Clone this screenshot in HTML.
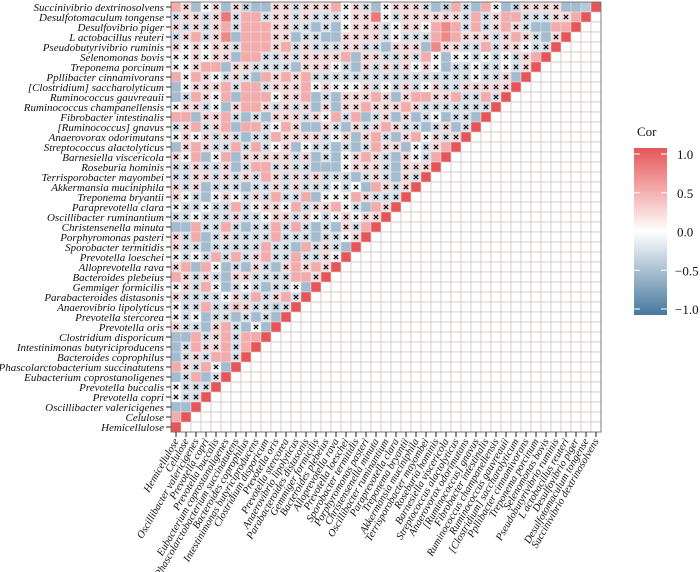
<!DOCTYPE html>
<html><head><meta charset="utf-8"><style>
html,body{margin:0;padding:0;background:#fff;}
svg{display:block;font-family:"Liberation Serif","Times New Roman",serif;}
</style></head><body>
<svg id="chart" width="700" height="572" viewBox="0 0 700 572" font-family="Liberation Serif, serif">
<g id="cells"></g>
<g id="ylabels"></g>
<g id="xlabels"></g>
<g id="legend"></g>
</svg>
<script>
const variables = ["Succinivibrio dextrinosolvens","Desulfotomaculum tongense","Desulfovibrio piger","L actobacillus reuteri","Pseudobutyrivibrio ruminis","Selenomonas bovis","Treponema porcinum","Ppllibacter cinnamivorans","[Clostridium] saccharolyticum","Ruminococcus gauvreauii","Ruminococcus champanellensis","Fibrobacter intestinalis","[Ruminococcus] gnavus","Anaerovorax odorimutans","Streptococcus alactolyticus","Barnesiella viscericola","Roseburia hominis","Terrisporobacter mayombei","Akkermansia muciniphila","Treponema bryantii","Paraprevotella clara","Oscillibacter ruminantium","Christensenella minuta","Porphyromonas pasteri","Sporobacter termitidis","Prevotella loeschei","Alloprevotella rava","Bacteroides plebeius","Gemmiger formicilis","Parabacteroides distasonis","Anaerovibrio lipolyticus","Prevotella stercorea","Prevotella oris","Clostridium disporicum","Intestinimonas butyriciproducens","Bacteroides coprophilus","Phascolarctobacterium succinatutens","Eubacterium coprostanoligenes","Prevotella buccalis","Prevotella copri","Oscillibacter valericigenes","Celulose","Hemicellulose"];
// correlation values: row i = variable i, column j = variable (42-j)
const corrRows = [
[.5,.2,-.5,0,.2,-.5,.2,-.3,-.5,-.5,.2,.2,-.2,.2,.2,.2,.5,0,.2,-.2,-.5,0,.2,.2,.2,-.2,-.5,-.3,.5,-.2,-.5,.5,0,-.5,-.3,.2,.2,.2,.2,-.5,-.5,-.4,1],
[-.2,.2,.2,-.2,.2,.8,-.2,.5,.5,-.2,.2,.2,-.2,.2,-.2,-.2,-.2,0,.2,.2,.8,0,-.2,.2,.2,.2,.2,.2,.2,-.2,.5,-.2,.2,.5,.5,-.2,-.2,-.2,.2,.2,.5,1],
[.2,-.2,.2,-.2,.2,.5,-.2,.5,.5,.5,.2,.2,-.2,-.2,-.5,-.2,-.5,0,.2,.2,.2,-.2,0,.2,.2,0,.5,.7,.5,-.2,.5,-.2,.2,.5,.2,-.2,-.5,-.5,.5,.5,1],
[-.2,.2,.5,-.2,.2,.7,-.5,.5,.5,.5,.2,.2,-.5,-.2,-.2,-.5,-.5,.2,.2,.2,.2,-.2,0,-.2,-.2,-.2,.5,.7,.5,.2,.2,.2,-.2,.2,.5,.2,-.2,-.5,.2,1],
[.2,0,.2,0,.2,.2,-.2,.5,.5,.5,.2,.5,-.2,.2,-.2,-.2,-.2,.2,.2,-.2,-.2,-.5,.2,.2,.2,-.5,.7,.2,.2,-.2,-.2,.5,-.2,.2,.2,0,-.2,-.2,1],
[0,0,.2,0,.2,.2,-.5,.5,.5,-.2,-.2,.2,-.2,.2,.2,.2,.2,.5,-.5,.2,.2,-.2,-.2,.2,-.2,.5,0,-.5,0,0,-.2,0,-.2,0,-.2,.2,.5,1],
[0,0,.2,.5,.5,-.5,.2,.2,-.2,-.2,-.2,-.2,-.5,.2,.2,.2,0,-.2,-.5,.2,-.2,.2,-.2,.2,0,.2,0,-.5,-.2,-.2,0,-.2,-.2,0,-.2,.2,1],
[.5,0,.5,.2,0,-.2,.2,-.2,-.5,.5,.2,.5,.2,.5,-.2,-.2,-.2,-.2,-.2,-.2,-.2,-.2,-.2,-.2,-.2,-.2,-.2,-.2,-.2,-.2,0,-.2,-.2,.2,-.5,1],
[-.5,0,.2,.2,.2,.5,-.2,.5,.5,-.2,.2,.2,.2,.5,0,.2,0,0,0,.2,-.2,0,-.2,.2,-.2,0,.2,-.2,-.2,.2,.2,.2,.2,.2,1],
[-.5,-.2,.5,.2,0,.5,-.5,.5,.5,.5,0,.2,.2,.5,-.5,-.2,-.5,.2,.2,.2,.5,.2,-.5,.2,.5,.5,.2,.2,.5,-.2,-.2,.5,-.2,1],
[0,.2,.2,-.2,0,-.5,.2,.5,.5,.2,-.2,.2,-.2,.2,-.5,.2,-.5,.2,.2,.5,.2,.2,.2,.5,.2,-.2,-.2,-.2,-.2,-.2,-.2,-.2,1],
[.5,.5,-.5,.2,.2,.5,-.2,-.5,-.2,-.5,.2,.2,.2,-.2,.2,0,.5,-.2,.5,-.5,-.2,.2,-.5,.2,-.5,-.2,0,-.5,-.2,-.2,-.5,1],
[-.2,.2,.5,-.2,.2,.5,-.5,.5,.5,-.2,0,.5,.2,-.5,-.5,.2,-.2,-.5,.2,-.2,.2,.5,.2,-.2,-.2,-.5,-.2,.2,-.5,-.2,1],
[0,.2,0,.2,-.2,.2,-.2,-.5,-.2,-.2,.5,.2,.2,.2,.2,-.2,0,.2,-.5,.2,.5,-.2,-.5,.2,.5,0,.2,-.2,.2,1],
[-.5,.2,.5,.2,-.2,-.2,.5,-.2,.5,-.2,0,.2,-.5,0,-.2,-.2,-.5,-.2,-.5,-.2,.5,.2,.2,-.5,0,-.2,.2,.5,1],
[.2,0,.5,-.5,0,.5,-.5,.2,.2,.2,.2,.2,-.2,.2,-.5,-.2,-.5,0,.2,.5,.2,-.2,-.5,.2,0,-.2,.5,1],
[-.2,-.2,.2,-.2,-.2,.2,-.5,-.2,.5,.5,-.2,.2,-.2,-.2,-.5,-.5,-.5,0,.2,.2,.2,-.2,-.5,.2,.2,.2,1],
[-.2,-.2,.2,.2,-.2,.2,-.2,.2,-.2,.5,.2,-.2,.2,-.2,.2,-.2,-.2,-.2,-.5,-.2,.2,-.2,-.5,.2,-.2,1],
[.2,-.2,.2,-.5,-.2,-.2,-.2,-.5,-.2,-.2,.2,-.2,.2,-.2,-.2,-.2,0,-.2,0,-.5,.5,.2,-.2,.2,1],
[.2,0,-.2,-.5,0,.2,0,-.2,.2,-.2,.5,-.2,-.2,.5,-.5,0,0,0,.5,.2,-.2,-.2,-.2,1],
[0,-.2,-.2,0,-.2,-.2,.5,-.2,0,.2,.2,0,.5,-.2,.2,.2,.5,0,-.2,-.5,.5,.2,1],
[-.2,-.2,0,-.2,-.2,-.2,.2,-.2,-.2,0,.2,.2,-.2,.2,0,-.2,0,.2,0,.2,.2,1],
[-.5,-.5,.5,-.2,-.2,.5,-.2,-.5,-.2,-.2,.5,-.2,.5,-.2,-.5,-.2,-.5,.2,-.2,.5,1],
[.2,-.2,.5,-.5,-.2,.2,-.2,-.2,-.2,-.2,.5,-.2,-.2,-.2,-.5,-.2,-.2,0,.2,1],
[.2,-.2,-.2,-.5,-.2,-.2,-.2,-.2,-.2,.5,-.2,-.2,-.5,.5,-.2,.2,-.2,-.5,1],
[0,-.2,0,-.2,.5,-.2,.5,-.2,.2,.5,-.2,-.2,.5,-.2,-.2,.2,0,1],
[.2,.5,-.5,.5,0,-.5,-.2,-.5,.2,-.2,-.5,.2,.5,.2,.5,.2,1],
[.5,.2,-.2,.2,-.2,-.5,.2,.2,-.2,-.2,-.2,-.2,.5,.5,.2,1],
[0,.2,-.2,.5,0,-.5,-.2,0,-.2,-.5,-.2,-.2,0,-.5,1],
[.2,-.2,-.2,-.2,-.2,0,.2,-.2,.5,-.2,.2,.5,-.2,1],
[0,-.2,-.2,.5,-.2,-.2,.3,.2,-.2,-.2,-.3,-.2,1],
[0,-.2,0,-.5,-.2,-.2,-.5,-.2,-.5,-.2,-.5,1],
[.2,-.2,-.2,-.5,.2,.5,-.2,-.5,0,-.5,1],
[-.5,-.5,.5,-.2,.2,.5,-.2,.5,.5,1],
[-.5,-.2,.5,.2,.2,.5,-.2,.5,1],
[-.5,-.2,.2,-.2,.5,.5,-.2,1],
[.5,.2,-.2,.5,0,-.5,1],
[-.5,-.2,.5,-.5,-.2,1],
[0,-.2,-.2,-.2,1],
[0,-.2,-.2,1],
[-.5,-.5,1],
[.5,1],
[1]
];
const legendTicks = [1.0, 0.5, 0.0, -0.5, -1.0];

const NS = "http://www.w3.org/2000/svg";
const N = variables.length;
const X0 = 171, Y0 = 2, CW = 10, CH = 10;
const FONT = '"Liberation Serif", "Times New Roman", serif';
const xPos = j => X0 + j * CW;
const yPos = i => Y0 + i * CH;
const RED = [230, 86, 88], BLUE = [70, 120, 158];
function color(v) {
  const t = Math.min(1, Math.abs(v)), c = v >= 0 ? RED : BLUE;
  const m = k => Math.round(255 + (c[k] - 255) * t);
  return `rgb(${m(0)},${m(1)},${m(2)})`;
}
function mk(tag, attrs, parent) {
  const el = document.createElementNS(NS, tag);
  for (const k in attrs) el.setAttribute(k, attrs[k]);
  parent.appendChild(el);
  return el;
}
const cells = document.getElementById('cells');
for (let i = 0; i < N; i++) {
  for (let j = N - i; j < N; j++) {
    const r = mk('rect', {x: xPos(j), y: yPos(i), width: CW, height: CH, fill: '#fff', stroke: '#cdbfbf', 'stroke-width': 0.7}, cells);
    
    
  }
}
corrRows.forEach((row, i) => {
  row.forEach((v, j) => {
    const r = mk('rect', {x: xPos(j), y: yPos(i), width: CW, height: CH, fill: color(v), stroke: '#e4e4e4', 'stroke-width': 0.5}, cells);
    
    
    if (j !== N - 1 - i && Math.abs(v) < 0.4) {
      const cx = xPos(j) + CW / 2, cy = yPos(i) + CH / 2, d = 2.2;
      const p = mk('path', {d: `M${cx-d},${cy-d}L${cx+d},${cy+d}M${cx+d},${cy-d}L${cx-d},${cy+d}`, stroke: '#111', 'stroke-width': 1.3, fill: 'none'}, cells);
      
      
    }
  });
});
const frame = mk('rect', {x: X0, y: Y0, width: N * CW, height: N * CH, fill: 'none', stroke: '#666', 'stroke-width': 0.8}, cells);



const yl = document.getElementById('ylabels');
variables.forEach((name, i) => {
  const t = mk('line', {x1: X0 - 5, x2: X0, y1: yPos(i) + CH / 2, y2: yPos(i) + CH / 2, stroke: '#222', 'stroke-width': 1}, yl);
  
  
  const tx = mk('text', {x: X0 - 7, y: yPos(i) + CH / 2 + 4, 'text-anchor': 'end', 'font-family': FONT, 'font-style': 'italic', 'font-size': 11, fill: '#111'}, yl);
  tx.textContent = name;
  
  
});
const xl = document.getElementById('xlabels');
for (let j = 0; j < N; j++) {
  const name = variables[N - 1 - j];
  const cx = xPos(j) + CW / 2, by = Y0 + N * CH;
  const t = mk('line', {x1: cx, x2: cx, y1: by, y2: by + 5, stroke: '#222', 'stroke-width': 1}, xl);
  
  
  const tx = mk('text', {x: 0, y: 0, 'text-anchor': 'end', 'font-family': FONT, 'font-style': 'italic', 'font-size': 10.5, fill: '#111', transform: `translate(${cx + 3},${by + 9}) rotate(-60)`}, xl);
  tx.textContent = name;
  
  
}
const lg = document.getElementById('legend');
const defs = mk('defs', {}, lg);
const grad = mk('linearGradient', {id: 'cg', x1: 0, y1: 0, x2: 0, y2: 1}, defs);
[1, 0.5, 0, -0.5, -1].forEach((v, k) => mk('stop', {offset: (k * 25) + '%', 'stop-color': color(v)}, grad));
const LX = 634, LW = 33, LTop = 154, LBot = 309;
const ly = v => LTop + (1 - v) / 2 * (LBot - LTop);
const bar = mk('rect', {x: LX, y: ly(1) - 6, width: LW, height: (LBot - LTop) + 12, fill: 'url(#cg)'}, lg);


const ttl = mk('text', {x: 637, y: 136, 'font-family': FONT, 'font-size': 13, fill: '#111'}, lg);
ttl.textContent = 'Cor';


legendTicks.forEach(v => {
  const y = ly(v);
  const a = mk('line', {x1: LX, x2: LX + 6, y1: y, y2: y, stroke: '#fff', 'stroke-width': 1}, lg);
  
  
  const b = mk('line', {x1: LX + LW - 6, x2: LX + LW, y1: y, y2: y, stroke: '#fff', 'stroke-width': 1}, lg);
  
  
  const t = mk('text', {x: v < 0 ? 675 : 677, y: y + 5, 'font-family': FONT, 'font-size': 13, fill: '#111'}, lg);
  t.textContent = (v < 0 ? '\u2212' + Math.abs(v).toFixed(1) : v.toFixed(1));
  
  
});
</script>
</body></html>
